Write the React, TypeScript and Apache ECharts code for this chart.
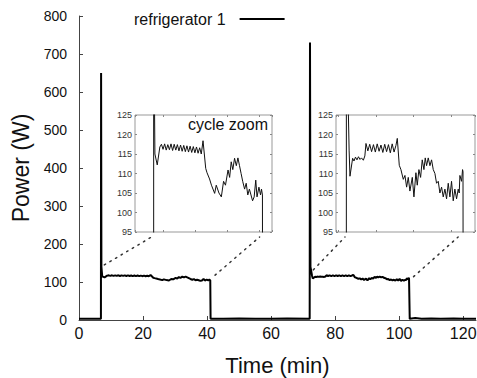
import React, { useEffect, useRef } from "react";
import * as echarts from "echarts";

// ---- data (time in minutes, power in W) ----
const idleStart: [number, number][] = [
  [0, 3], [3, 3], [6.85, 3],
];
const cycle1: [number, number][] = [
  [6.9, 650], [7.0, 140], [7.25, 115], [7.98, 112.2], [8.8, 116.8],
  [9.3, 117.5], [9.8, 116.2], [10.3, 117.6], [10.8, 116.0], [11.3, 117.4], [11.8, 116.1],
  [12.3, 117.6], [12.8, 115.9], [13.3, 117.5], [13.8, 116.0], [14.3, 117.4], [14.8, 115.8],
  [15.3, 117.3], [15.8, 115.7], [16.3, 117.2], [16.8, 115.6], [17.3, 117.1], [17.8, 115.5],
  [18.3, 117.0], [18.8, 115.4], [19.3, 116.9], [19.8, 115.3], [20.3, 116.8], [20.8, 115.2],
  [21.3, 116.6], [21.8, 115.0], [22.35, 118.4], [23.2, 111.3], [23.6, 110.2], [24.4, 108.6],
  [25.0, 107.0], [26.0, 104.9], [26.5, 107.0], [27.35, 105.0], [28.1, 104.0], [28.8, 108.0],
  [29.4, 107.0], [30.2, 110.9], [30.7, 109.0], [31.2, 113.0], [31.7, 111.0], [32.25, 113.9],
  [32.8, 112.0], [33.3, 114.0], [33.8, 112.0], [34.3, 110.0], [34.8, 108.0], [35.4, 106.0],
  [35.9, 107.5], [36.4, 104.5], [36.9, 106.0], [37.4, 104.5], [37.9, 103.0], [38.4, 104.0],
  [38.9, 108.3], [39.3, 104.0], [39.9, 106.5], [40.4, 104.5], [40.7, 106.0], [41.0, 104.5],
];
const idleMiddle: [number, number][] = [
  [41.1, 3], [45, 3], [50, 4], [55, 3], [60, 3], [65, 4], [72.05, 3],
];
const cycle2: [number, number][] = [
  [72.15, 730], [72.3, 140], [72.8, 116], [73.03, 109.3], [73.74, 113.9], [74.1, 113.2],
  [74.5, 114.2], [74.9, 113.5], [75.3, 114.3], [75.7, 113.6], [76.1, 114.0], [76.6, 113.4],
  [77.0, 114.5], [77.3, 117.7], [77.8, 115.8], [78.3, 117.5], [78.8, 115.6], [79.3, 117.4],
  [79.8, 115.5], [80.3, 117.6], [80.8, 115.7], [81.3, 117.3], [81.8, 115.4], [82.3, 117.5],
  [82.8, 115.6], [83.3, 117.4], [83.8, 115.3], [84.3, 117.6], [84.8, 115.5], [85.3, 117.2],
  [85.66, 119.0], [86.19, 112.1], [86.63, 111.0], [87.26, 108.5], [87.7, 109.5], [88.15, 106.5],
  [88.59, 109.0], [89.03, 105.5], [89.66, 109.0], [90.1, 104.0], [90.63, 110.2], [90.99, 107.0],
  [91.43, 111.0], [91.88, 109.0], [92.32, 113.5], [92.77, 111.0], [93.12, 114.0], [93.48, 112.0],
  [93.92, 114.0], [94.37, 112.0], [94.81, 113.5], [95.26, 111.0], [95.7, 110.0], [96.14, 107.5],
  [96.59, 108.0], [97.03, 105.0], [97.48, 106.5], [97.92, 104.0], [98.37, 106.0], [98.81, 103.5],
  [99.26, 107.5], [99.7, 104.0], [100.14, 108.0], [100.59, 103.0], [101.03, 106.0], [101.48, 103.5],
  [101.92, 106.0], [102.19, 105.0], [102.37, 109.5], [102.81, 108.0], [103.08, 111.0], [103.2, 110.5],
];
const idleEnd: [number, number][] = [
  [103.3, 3], [105, 5], [107, 3], [110, 4], [113, 3], [117, 4], [120, 3], [124, 3],
];

const SERIES_NAME = "refrigerator 1";
const INSET_TEXT = "cycle zoom";
const X_LABEL = "Time (min)";
const Y_LABEL = "Power (W)";

// zoom windows (minutes) and power window (W)
const zoom1Range = [1, 44];
const zoom2Range = [69.3, 106.4];
const zoomPower = [95, 125];

// connector anchors: [main time, main power] -> [inset time]
const connectors = [
  { inset: 1, from: [7.9, 145], to: 6.2 },
  { inset: 1, from: [42.5, 118], to: 40.1 },
  { inset: 2, from: [73.2, 132], to: 71.7 },
  { inset: 2, from: [104.5, 114], to: 101.9 },
];

const FONT = "Liberation Sans, Arial, Helvetica, sans-serif";

export default function App() {
  const ref = useRef<HTMLDivElement>(null);
  useEffect(() => {
    const chart = echarts.init(ref.current!, null, { renderer: "svg" });
    const data = [...idleStart, ...cycle1, ...idleMiddle, ...cycle2, ...idleEnd];

    const insetGrid = {
      show: true,
      backgroundColor: "#fff",
      borderColor: "#999",
      borderWidth: 1,
      top: 115,
      height: 117,
      outerBoundsMode: "none",
    };
    const insetX = (gi: number, range: number[], pos: string) => ({
      gridIndex: gi,
      type: "value",
      position: pos,
      min: range[0],
      max: range[1],
      axisLine: { show: false },
      axisTick: { inside: true, length: 2, lineStyle: { color: "#888" } },
      axisLabel: { show: false },
      splitLine: { show: false },
    });
    const insetY = (gi: number, pos: string, labels: boolean) => ({
      gridIndex: gi,
      type: "value",
      position: pos,
      min: zoomPower[0],
      max: zoomPower[1],
      interval: 5,
      axisLine: { show: false },
      axisTick: { inside: true, length: 2, lineStyle: { color: "#888" } },
      axisLabel: { show: labels, fontSize: 9, color: "#333", margin: 3, fontFamily: FONT },
      splitLine: { show: false },
    });

    chart.setOption({
      animation: false,
      textStyle: { fontFamily: FONT },
      legend: {
        data: [SERIES_NAME],
        left: 129,
        top: 6,
        align: "right",
        itemWidth: 54,
        itemHeight: 2,
        icon: "path://M9,0L54,0L54,2L9,2ZM0,0L0.01,0L0.01,0.01L0,0.01Z",
        itemStyle: { color: "#000" },
        textStyle: { fontSize: 16, color: "#111", fontFamily: FONT },
      },
      grid: [
        { left: 79, top: 16, width: 397, height: 304, outerBoundsMode: "none" },
        { ...insetGrid, left: 135, width: 137 },
        { ...insetGrid, left: 336, width: 139 },
      ],
      xAxis: [
        {
          gridIndex: 0,
          type: "value",
          min: 0,
          max: 124,
          interval: 20,
          axisLine: { lineStyle: { color: "#444", width: 1 } },
          axisTick: { inside: true, length: 4, lineStyle: { color: "#444" } },
          axisLabel: { fontSize: 16, color: "#111", margin: 5, showMaxLabel: false, fontFamily: FONT },
          splitLine: { show: false },
          name: X_LABEL,
          nameLocation: "middle",
          nameGap: 34,
          nameTextStyle: { fontSize: 22, color: "#111", fontFamily: FONT },
        },
        insetX(1, zoom1Range, "bottom"),
        insetX(1, zoom1Range, "top"),
        insetX(2, zoom2Range, "bottom"),
        insetX(2, zoom2Range, "top"),
      ],
      yAxis: [
        {
          gridIndex: 0,
          type: "value",
          min: 0,
          max: 800,
          interval: 100,
          axisLine: { show: true, lineStyle: { color: "#444", width: 1 } },
          axisTick: { show: true, inside: true, length: 4, lineStyle: { color: "#444" } },
          axisLabel: { fontSize: 14, color: "#111", margin: 12, fontFamily: FONT },
          splitLine: { show: false },
          name: Y_LABEL,
          nameLocation: "middle",
          nameGap: 42,
          nameTextStyle: { fontSize: 23, color: "#111", fontFamily: FONT },
        },
        insetY(1, "left", true),
        insetY(1, "right", false),
        insetY(2, "left", true),
        insetY(2, "right", false),
      ],
      series: [
        {
          name: SERIES_NAME,
          type: "line",
          xAxisIndex: 0,
          yAxisIndex: 0,
          data,
          symbol: "none",
          lineStyle: { color: "#000", width: 2 },
          itemStyle: { color: "#000" },
        },
        {
          name: "zoom 1",
          type: "line",
          xAxisIndex: 1,
          yAxisIndex: 1,
          data,
          symbol: "none",
          clip: true,
          lineStyle: { color: "#111", width: 1 },
        },
        {
          name: "zoom 2",
          type: "line",
          xAxisIndex: 3,
          yAxisIndex: 3,
          data,
          symbol: "none",
          clip: true,
          lineStyle: { color: "#111", width: 1 },
        },
      ],
    });

    const graphics: any[] = [];
    connectors.forEach((c) => {
      const p1 = chart.convertToPixel({ gridIndex: 0 }, c.from as number[]) as number[];
      const p2 = chart.convertToPixel({ gridIndex: c.inset }, [c.to, zoomPower[0]]) as number[];
      graphics.push({
        type: "line",
        shape: { x1: p1[0], y1: p1[1], x2: p2[0], y2: p2[1] + 5 },
        style: { stroke: "#333", lineWidth: 1.5, lineDash: [1.5, 5], lineCap: "round" },
        silent: true,
      });
    });
    const tr = chart.convertToPixel({ gridIndex: 1 }, [zoom1Range[1], zoomPower[1]]) as number[];
    graphics.push({
      type: "text",
      x: tr[0] - 4,
      y: tr[1] + 9,
      style: {
        text: INSET_TEXT,
        fontSize: 16,
        fontFamily: FONT,
        fill: "#111",
        textAlign: "right",
        textVerticalAlign: "middle",
      },
      z: 10,
    });
    chart.setOption({ graphic: graphics });

    return () => chart.dispose();
  }, []);
  return (
    <div
      ref={ref}
      style={{ position: "absolute", left: 0, top: 0, width: 477, height: 378, background: "#fff" }}
    />
  );
}
